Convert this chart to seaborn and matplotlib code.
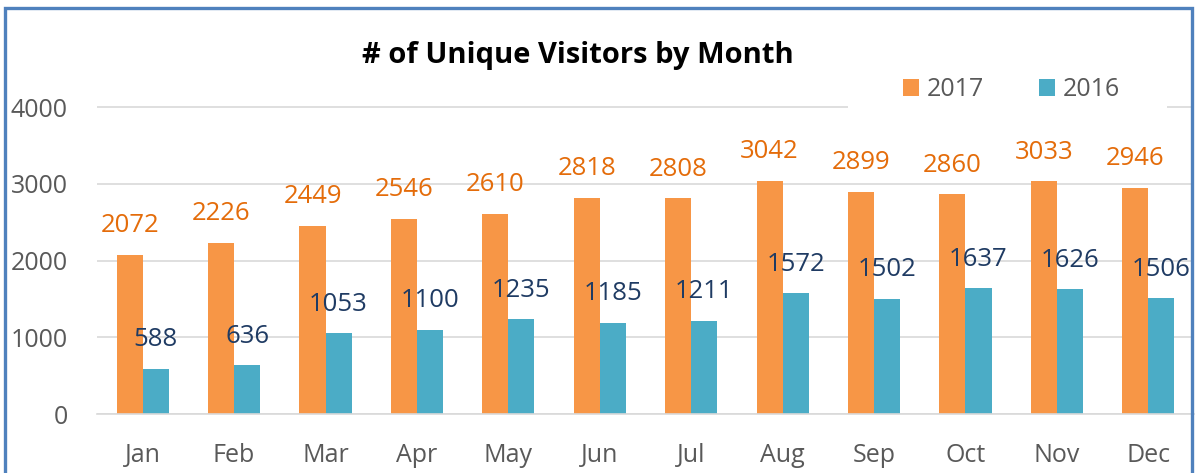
import pandas as pd
import matplotlib.pyplot as plt
import seaborn as sns
from matplotlib.patches import Rectangle

# Chart data
months = ['Jan', 'Feb', 'Mar', 'Apr', 'May', 'Jun',
          'Jul', 'Aug', 'Sep', 'Oct', 'Nov', 'Dec']
visitors_2017 = [2072, 2226, 2449, 2546, 2610, 2818, 2808, 3042, 2899, 2860, 3033, 2946]
visitors_2016 = [588, 636, 1053, 1100, 1235, 1185, 1211, 1572, 1502, 1637, 1626, 1506]
years = ['2017', '2016']
y_ticks = [0, 1000, 2000, 3000, 4000]


def main():
    df = pd.DataFrame({
        'month': months * 2,
        'year': [years[0]] * len(months) + [years[1]] * len(months),
        'visitors': visitors_2017 + visitors_2016,
    })

    sns.set_style('white')
    plt.rcParams['font.family'] = ['Open Sans', 'DejaVu Sans']

    W, H = 1195, 473
    fig = plt.figure(figsize=(W / 100, H / 100), dpi=100)
    ax_h = 307 * 4050 / 4000
    ax = fig.add_axes([97 / W, (H - 414) / H, 1097 / W, ax_h / H])

    sns.barplot(data=df, x='month', y='visitors', hue='year',
                hue_order=years, palette=['#F79646', '#4BACC6'],
                width=0.57, gap=0, saturation=1, linewidth=0, ax=ax)

    # Value labels above each bar
    for container, color in zip(ax.containers, ['#E46C0A', '#1F3B63']):
        ax.bar_label(container, padding=12, fontsize=18.5, color=color)

    ax.set_ylim(0, 4050)
    ax.set_xlim(-0.5, len(months) - 0.5)
    ax.set_yticks(y_ticks)
    ax.set_xlabel('')
    ax.set_ylabel('')
    ax.yaxis.grid(True, color='#D9D9D9', linewidth=1.2)
    ax.set_axisbelow(True)
    for side in ['top', 'right', 'left']:
        ax.spines[side].set_visible(False)
    ax.spines['bottom'].set_color('#D9D9D9')
    ax.spines['bottom'].set_linewidth(1.2)
    ax.tick_params(length=0, pad=21, labelsize=18, labelcolor='#595959')

    sns.move_legend(ax, loc='center left', bbox_to_anchor=(903 / W, 1 - 90 / H),
                    bbox_transform=fig.transFigure, ncol=2, title=None,
                    frameon=False, fontsize=18, handlelength=0.64, handleheight=0.64,
                    handletextpad=0.32, columnspacing=2.2, borderpad=0, borderaxespad=0)
    for t in ax.get_legend().get_texts():
        t.set_color('#595959')

    # White block behind legend that breaks the top gridline
    fig.add_artist(Rectangle((848 / W, 1 - 115 / H), (1167 - 848) / W, 15 / H,
                             transform=fig.transFigure, facecolor='white',
                             edgecolor='none', zorder=2))

    fig.text(578 / W, 1 - 55 / H, '# of Unique Visitors by Month',
             ha='center', va='center', fontsize=21, fontweight='bold', color='black')

    # Blue frame around chart (bottom runs off the image)
    fig.add_artist(Rectangle((5 / W, -0.05), (1192 - 5) / W, 1.05 - 8 / H,
                             transform=fig.transFigure, fill=False,
                             edgecolor='#4F81BD', linewidth=2.4, zorder=3))

    plt.savefig('out.png', dpi=100)
    plt.close()


if __name__ == '__main__':
    main()
